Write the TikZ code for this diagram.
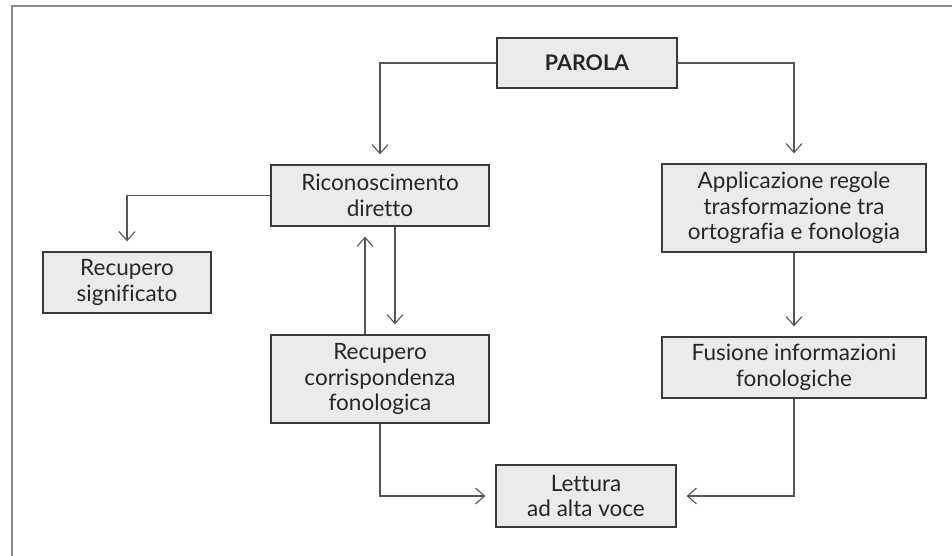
\documentclass[tikz,border=0pt]{standalone}
\usepackage{fontspec}
\setmainfont{Lato}[Ligatures=CommonOff]
\usetikzlibrary{arrows.meta}
\definecolor{boxfill}{HTML}{EBEBEB}
\definecolor{boxline}{HTML}{3A3A3A}
\definecolor{conline}{HTML}{555555}
\definecolor{framegray}{HTML}{8A8A8A}
\tikzset{
  box/.style={draw=boxline, line width=1.3pt, fill=boxfill, align=center,
    inner sep=0pt, font=\fontsize{22.5}{25.5}\selectfont, text=black!85},
  conn/.style={draw=conline, line width=1.1pt,
    -{Straight Barb[length=9pt,width=16pt,line width=1.1pt]}, shorten >=10pt},
}
\begin{document}
\begin{tikzpicture}[x=1pt,y=-1pt]
\useasboundingbox (0,0) rectangle (952,556);
\draw[framegray, line width=2pt] (952,6) -- (12,6) -- (12,556);

\node[box, minimum width=180pt, minimum height=50pt, font=\fontsize{21.5}{24}\selectfont\bfseries] (parola) at (587,63) {PAROLA};
\node[box, minimum width=218pt, minimum height=61pt] (ric) at (380,195.5) {Riconoscimento\\diretto};
\node[box, minimum width=264pt, minimum height=88pt] (app) at (794,208) {Applicazione regole\\trasformazione tra\\ortografia e fonologia};
\node[box, minimum width=168pt, minimum height=61pt] (sig) at (127,282.5) {Recupero\\significato};
\node[box, minimum width=218pt, minimum height=88pt] (corr) at (380,379) {Recupero\\corrispondenza\\fonologica};
\node[box, minimum width=264pt, minimum height=61pt] (fus) at (794,367.5) {Fusione informazioni\\fonologiche};
\node[box, minimum width=180pt, minimum height=62pt] (let) at (586,496) {Lettura\\ad alta voce};

\draw[conn] (parola.west) -| (ric.north);
\draw[conn] (parola.east) -| (app.north);
\draw[conn] (ric.west) -| (sig.north);
\draw[conn] ([xshift=15pt]ric.south) -- ([xshift=15pt]corr.north);
\draw[conn] ([xshift=-15pt]corr.north) -- ([xshift=-15pt]ric.south);
\draw[conn] (app.south) -- (fus.north);
\draw[conn] (corr.south) |- (let.west);
\draw[conn] (fus.south) |- (let.east);
\end{tikzpicture}
\end{document}
